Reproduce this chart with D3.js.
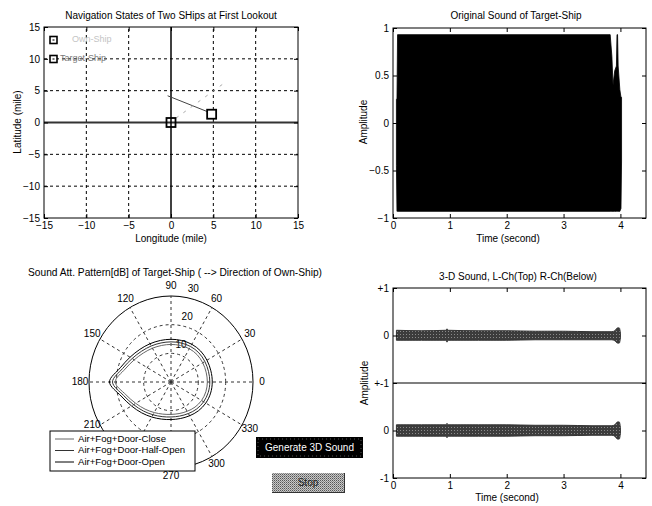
<!DOCTYPE html>
<html><head><meta charset="utf-8">
<script src="https://cdn.jsdelivr.net/npm/d3@7/dist/d3.min.js"></script>
<style>
body{margin:0;background:#fff;}
svg{display:block;font-family:"Liberation Sans",Arial,sans-serif;}
</style></head><body>
<svg id="c" width="652" height="506"></svg>
<script>
// ---------- DATA ----------
// Panel 1: navigation states
const shipNames = ["Own-Ship", "Target-Ship"];
const shipLon = [0, 4.8];
const shipLat = [0, 1.3];
const headingLon = [-0.4, 4.5];
const headingLat = [4.2, 1.6];
const bearingLon = [0.6, 6.5];
const bearingLat = [0.7, 6.4];
const navTicks = [-15, -10, -5, 0, 5, 10, 15];
const navGrid = [-10, -5, 5, 10];

// Panel 2: original sound envelope
const sigTime  = [0.06, 0.07, 0.08, 3.82, 3.85, 3.87, 3.90, 3.93, 3.94, 3.95, 3.96, 3.99, 4.01, 4.02];
const sigUpper = [0.25, 0.25, 0.93, 0.93, 0.70, 0.40, 0.55, 0.60, 0.93, 0.93, 0.60, 0.35, 0.27, 0.27];
const sigLower = [-0.45, -0.93, -0.93, -0.93, -0.93, -0.93, -0.93, -0.93, -0.93, -0.93, -0.93, -0.93, -0.90, -0.40];
const timeTicks = [0, 1, 2, 3, 4];
const ampTicks = [-1, -0.5, 0, 0.5, 1];

// Panel 3: polar attenuation pattern (dB)
const polarAngles = [0,15,30,45,60,75,90,105,120,135,150,165,180,195,210,225,240,255,270,285,300,315,330,345];
const rClose = [13.3,13.3,13.4,13.5,13.4,13.2,13.1,13.2,13.6,14.3,15.5,17.4,20.4,17.1,14.9,13.4,12.3,11.6,11.3,11.4,11.8,12.4,12.9,13.2];
const rHalf  = [14.2,14.2,14.3,14.4,14.3,14.1,14.0,14.1,14.5,15.2,16.4,18.3,21.4,18.0,15.8,14.3,13.2,12.5,12.2,12.3,12.7,13.3,13.8,14.1];
const rOpen  = [15.1,15.1,15.2,15.3,15.2,15.0,14.9,15.0,15.4,16.1,17.3,19.2,22.5,18.9,16.7,15.2,14.1,13.4,13.1,13.2,13.6,14.2,14.7,15.0];
const seriesNames = ["Air+Fog+Door-Close", "Air+Fog+Door-Half-Open", "Air+Fog+Door-Open"];
const spokeAngles = [0,30,60,90,120,150,180,210,240,270,300,330];
const hiddenAngleLabels = [240]; // covered by the legend in the reference
const ringValues = [10, 20, 30];

// Panel 4: 3-D sound channels
const bandTime   = [0.06, 0.5, 0.93, 0.95, 0.97, 1.5, 2.0, 2.5, 3.0, 3.5, 3.85, 3.9, 3.95, 3.98, 4.0];
const leftUpper  = [0.11, 0.10, 0.11, 0.14, 0.11, 0.10, 0.10, 0.09, 0.09, 0.08, 0.08, 0.10, 0.16, 0.16, 0.05];
const leftLower  = [-0.10,-0.10,-0.10,-0.14,-0.10,-0.10,-0.10,-0.09,-0.09,-0.09,-0.09,-0.11,-0.16,-0.16,-0.05];
const rightUpper = [0.12, 0.12, 0.12, 0.15, 0.12, 0.12, 0.12, 0.11, 0.11, 0.10, 0.10, 0.12, 0.18, 0.18, 0.06];
const rightLower = [-0.12,-0.12,-0.12,-0.15,-0.12,-0.12,-0.12,-0.11,-0.11,-0.10,-0.10,-0.12,-0.18,-0.18,-0.06];
const chCenters = [1, -1];
const stTickVals = [2, 1, 0, -1, -2];
const stTickLabels = ["+1", "0", "+-1", "0", "-1"];

const buttonLabels = ["Generate 3D Sound", "Stop"];

// ---------- DRAW ----------
const svg = d3.select("#c");
svg.append("rect").attr("width",652).attr("height",506).attr("fill","#fff");
const defs = svg.append("defs");
const pat = defs.append("pattern").attr("id","dither").attr("width",2).attr("height",2).attr("patternUnits","userSpaceOnUse");
pat.append("rect").attr("width",2).attr("height",2).attr("fill","#c8c8c8");
pat.append("rect").attr("width",1).attr("height",1).attr("fill","#555");
pat.append("rect").attr("x",1).attr("y",1).attr("width",1).attr("height",1).attr("fill","#888");
const pat2 = defs.append("pattern").attr("id","speck").attr("width",3).attr("height",3).attr("patternUnits","userSpaceOnUse");
pat2.append("rect").attr("width",3).attr("height",3).attr("fill","#3c3c3c");
pat2.append("rect").attr("x",1).attr("y",1).attr("width",1).attr("height",1).attr("fill","#8a8a8a");

const FS = 10;

function boxAxes(g, x, y, xt, yt, xfmt, yfmt) {
  const [x0,x1] = x.range(), [y0,y1] = y.range();
  const ax = (gen, tr) => {
    const a = g.append("g").attr("transform", tr).call(gen);
    a.select(".domain").remove();
    a.selectAll("line").attr("stroke","#000");
    a.selectAll("text").attr("font-size",FS).attr("font-family","Liberation Sans, Arial, sans-serif").attr("fill","#000");
    return a;
  };
  ax(d3.axisBottom(x).tickValues(xt).tickSizeInner(-4).tickSizeOuter(0).tickPadding(4).tickFormat(xfmt), `translate(0,${y0})`);
  ax(d3.axisTop(x).tickValues(xt).tickSizeInner(-4).tickSizeOuter(0).tickFormat(""), `translate(0,${y1})`);
  ax(d3.axisLeft(y).tickValues(yt).tickSizeInner(-4).tickSizeOuter(0).tickPadding(4).tickFormat(yfmt), `translate(${x0},0)`);
  ax(d3.axisRight(y).tickValues(yt).tickSizeInner(-4).tickSizeOuter(0).tickFormat(""), `translate(${x1},0)`);
  g.append("rect").attr("x",x0).attr("y",y1).attr("width",x1-x0).attr("height",y0-y1)
    .attr("fill","none").attr("stroke","#000").attr("stroke-width",1);
}
function label(t, x, y, opts={}) {
  const e = svg.append("text").attr("x",x).attr("y",y).attr("text-anchor",opts.anchor||"middle")
    .attr("font-size",opts.size||FS).attr("dominant-baseline","middle").text(t);
  if (opts.rot) e.attr("transform",`rotate(-90,${x},${y})`);
  if (opts.fill) e.attr("fill",opts.fill);
  return e;
}

// ---- Panel 1 ----
{
  const g = svg.append("g");
  const x = d3.scaleLinear([-15,15],[44,298]);
  const y = d3.scaleLinear([-15,15],[218,27]);
  navGrid.forEach(v => {
    g.append("line").attr("x1",x(v)).attr("x2",x(v)).attr("y1",y(-15)).attr("y2",y(15))
      .attr("stroke","#000").attr("stroke-dasharray","3,3");
    g.append("line").attr("x1",x(-15)).attr("x2",x(15)).attr("y1",y(v)).attr("y2",y(v))
      .attr("stroke","#000").attr("stroke-dasharray","3,3");
  });
  g.append("line").attr("x1",x(-15)).attr("x2",x(15)).attr("y1",y(0)).attr("y2",y(0)).attr("stroke","#333").attr("stroke-width",2);
  g.append("line").attr("x1",x(0)).attr("x2",x(0)).attr("y1",y(-15)).attr("y2",y(15)).attr("stroke","#000").attr("stroke-width",1.5);
  boxAxes(g, x, y, navTicks, navTicks, d3.format("d"), d3.format("d"));
  g.append("line").attr("x1",x(headingLon[0])).attr("y1",y(headingLat[0])).attr("x2",x(headingLon[1])).attr("y2",y(headingLat[1]))
    .attr("stroke","#444").attr("stroke-width",1);
  g.append("line").attr("x1",x(bearingLon[0])).attr("y1",y(bearingLat[0])).attr("x2",x(bearingLon[1])).attr("y2",y(bearingLat[1]))
    .attr("stroke","#aaa").attr("stroke-width",1).attr("stroke-dasharray","3,6");
  shipLon.forEach((lon,i) => {
    const cx = x(lon), cy = y(shipLat[i]);
    g.append("rect").attr("x",cx-4.5).attr("y",cy-4.5).attr("width",9).attr("height",9)
      .attr("fill", i===0 ? "none" : "#fff").attr("stroke","#000").attr("stroke-width",1.8);
  });
  shipNames.forEach((n,i) => {
    const ly = 40 + i*19;
    g.append("rect").attr("x",50).attr("y",ly-3.5).attr("width",7).attr("height",7).attr("fill","#fff").attr("stroke","#000").attr("stroke-width",1.6);
    g.append("rect").attr("x",52.5).attr("y",ly-1).attr("width",2).attr("height",2).attr("fill","#777");
    g.append("text").attr("x", i===0 ? 72 : 60).attr("y",ly).attr("dominant-baseline","middle")
      .attr("font-size",9).attr("fill", i===0 ? "#c4c4c4" : "#7a7a7a").text(n);
  });
  label("Navigation States of Two SHips at First Lookout", 171, 16);
  label("Longitude (mile)", 171, 239);
  label("Latitude (mile)", 18, 122, {rot:true});
}

// ---- Panel 2 ----
{
  const g = svg.append("g");
  const x = d3.scaleLinear([0,4.45],[393,646]);
  const y = d3.scaleLinear([-1,1],[218,28]);
  const area = d3.area().x((d,i)=>x(sigTime[i])).y0((d,i)=>y(sigLower[i])).y1((d,i)=>y(sigUpper[i]));
  g.append("path").attr("d", area(sigTime)).attr("fill","#000").attr("stroke","#000").attr("stroke-width",0.8);
  boxAxes(g, x, y, timeTicks, ampTicks, d3.format("d"), d => d3.format("")(d));
  label("Original Sound of Target-Ship", 516, 16);
  label("Time (second)", 508, 239);
  label("Amplitude", 364, 122, {rot:true});
}

// ---- Panel 3: polar ----
{
  const g = svg.append("g");
  const cx = 171, cy = 382, rx = 82, ry = 86;
  const r = d3.scaleLinear([0,30],[0,1]);
  const pt = (ang, v) => [cx + r(v)*rx*Math.cos(ang*Math.PI/180), cy - r(v)*ry*Math.sin(ang*Math.PI/180)];
  ringValues.forEach(v => {
    g.append("ellipse").attr("cx",cx).attr("cy",cy).attr("rx",r(v)*rx).attr("ry",r(v)*ry)
      .attr("fill","none").attr("stroke", v===30 ? "#000" : "#333").attr("stroke-width",1)
      .attr("stroke-dasharray", v===30 ? null : "3,3");
  });
  spokeAngles.forEach(a => {
    const [x2,y2] = pt(a,30);
    g.append("line").attr("x1",cx).attr("y1",cy).attr("x2",x2).attr("y2",y2)
      .attr("stroke","#333").attr("stroke-dasharray","3,3");
    if (hiddenAngleLabels.includes(a)) return;
    let [lx,ly] = pt(a,33.3);
    if (a === 210) ly -= 4;
    if (a === 270) ly -= 1;
    g.append("text").attr("x",lx).attr("y",ly).attr("text-anchor","middle").attr("dominant-baseline","middle")
      .attr("font-size",FS).text(a);
  });
  ringValues.forEach(v => {
    const [lx,ly] = pt(77, v+3);
    g.append("text").attr("x",lx+2).attr("y",ly).attr("text-anchor","middle").attr("dominant-baseline","middle")
      .attr("font-size",FS).text(v);
  });
  const series = [rClose, rHalf, rOpen];
  const cols = ["#666", "#333", "#000"];
  series.forEach((s,k) => {
    const line = d3.line().x((d,i)=>pt(polarAngles[i], s[i])[0]).y((d,i)=>pt(polarAngles[i], s[i])[1]).curve(d3.curveCatmullRomClosed.alpha(0.5));
    g.append("path").attr("d", line(s)).attr("fill","none").attr("stroke",cols[k]).attr("stroke-width",1);
  });
  const lg = g.append("g");
  lg.append("rect").attr("x",50).attr("y",431).attr("width",145).attr("height",40).attr("fill","#fff").attr("stroke","#000");
  seriesNames.forEach((n,i) => {
    const ly = 439 + i*11.5;
    lg.append("line").attr("x1",55).attr("x2",74).attr("y1",ly).attr("y2",ly).attr("stroke",cols[i]).attr("stroke-width",1);
    lg.append("text").attr("x",78).attr("y",ly).attr("dominant-baseline","middle").attr("font-size",9.6).text(n);
  });
  label("Sound Att. Pattern[dB] of Target-Ship ( --> Direction of Own-Ship)", 175, 273, {size:10.2});
}

// ---- Buttons ----
{
  const b1 = svg.append("g");
  b1.append("rect").attr("x",256).attr("y",437).attr("width",107).attr("height",21).attr("fill","#000");
  b1.append("rect").attr("x",258).attr("y",439).attr("width",103).attr("height",17).attr("fill","none").attr("stroke","#555").attr("stroke-dasharray","1,3");
  b1.append("text").attr("x",309.5).attr("y",448).attr("text-anchor","middle").attr("dominant-baseline","middle")
    .attr("font-size",10).attr("fill","#fff").text(buttonLabels[0]);
  const b2 = svg.append("g");
  b2.append("rect").attr("x",272).attr("y",473).attr("width",72).attr("height",19).attr("fill","url(#dither)");
  b2.append("line").attr("x1",272).attr("x2",344).attr("y1",492.5).attr("y2",492.5).attr("stroke","#333");
  b2.append("line").attr("x1",344.5).attr("x2",344.5).attr("y1",473).attr("y2",493).attr("stroke","#333");
  b2.append("text").attr("x",308).attr("y",483).attr("text-anchor","middle").attr("dominant-baseline","middle")
    .attr("font-size",10).attr("fill","#222").text(buttonLabels[1]);
}

// ---- Panel 4 ----
{
  const g = svg.append("g");
  const x = d3.scaleLinear([0,4.45],[393,646]);
  const y = d3.scaleLinear([-2,2],[478,288]);
  g.append("line").attr("x1",x(0)).attr("x2",x(4.45)).attr("y1",y(0)).attr("y2",y(0)).attr("stroke","#000").attr("stroke-width",1.2);
  const ups = [leftUpper, rightUpper], lows = [leftLower, rightLower];
  chCenters.forEach((c,k) => {
    const area = d3.area().x((d,i)=>x(bandTime[i])).y0((d,i)=>y(c+lows[k][i])).y1((d,i)=>y(c+ups[k][i])).curve(d3.curveMonotoneX);
    g.append("path").attr("d", area(bandTime)).attr("fill","url(#speck)").attr("stroke","#333").attr("stroke-width",1);
  });
  boxAxes(g, x, y, timeTicks, stTickVals, d3.format("d"), d => stTickLabels[stTickVals.indexOf(d)]);
  label("3-D Sound, L-Ch(Top) R-Ch(Below)", 518, 277);
  label("Time (second)", 507, 498);
  label("Amplitude", 365, 383, {rot:true});
}
</script>
</body></html>
